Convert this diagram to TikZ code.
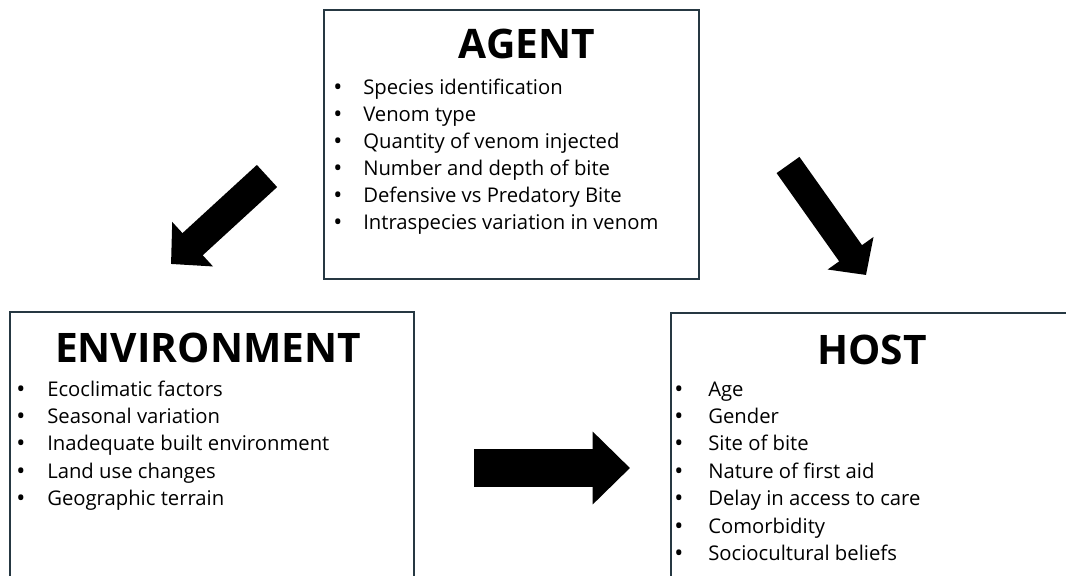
\documentclass[tikz,border=0pt]{standalone}
\usepackage{fontspec}
\setmainfont{Open Sans}
\usetikzlibrary{arrows.meta,positioning}

\definecolor{framecol}{RGB}{38,56,66}

\tikzset{
  frame/.style={draw=framecol, line width=1.5pt, inner sep=0pt, anchor=north west},
  title/.style={font=\fontsize{30.5}{30.5}\selectfont\bfseries, anchor=base, inner sep=0pt},
  item/.style={font=\fontsize{15.2}{15.2}\selectfont, anchor=base west, inner sep=0pt},
  dot/.style={font=\fontsize{18}{18}\selectfont, anchor=base, inner sep=0pt},
  blockarrow/.style n args={3}{line width=#1, -{Triangle[length=#2, width=#3]}}
}

\begin{document}
\begin{tikzpicture}[x=0.75pt,y=-0.75pt]
\useasboundingbox (0,0) rectangle (1066,575);
\clip (0,0) rectangle (1066,575);

% the three boxes
\node[frame, minimum width=281.25pt, minimum height=201.75pt] (agent) at (323,9) {};
\node[frame, minimum width=303pt, minimum height=225pt] (environment) at (9,311) {};
\node[frame, minimum width=302.25pt, minimum height=225pt] (host) at (670,312) {};

\node[title] (agent-title) at (527,58) {AGENT};
\node[title] (environment-title) at (208,362) {ENVIRONMENT};
\node[title] (host-title) at (872,364) {HOST};

% bullet lists
\foreach \t [count=\i] in {Species identification, Venom type,
  Quantity of venom injected, Number and depth of bite,
  Defensive vs Predatory Bite, Intraspecies variation in venom} {
	\node[dot] (agent-dot-\i) at (338,{95+27*(\i-1)}) {\textbullet};
	\node[item] (agent-\i) at (363,{94+27*(\i-1)}) {\t};
}
\foreach \t [count=\i] in {Ecoclimatic factors, Seasonal variation,
  Inadequate built environment, Land use changes, Geographic terrain} {
	\node[dot] (environment-dot-\i) at (21,{397+27.4*(\i-1)}) {\textbullet};
	\node[item] (environment-\i) at (47,{396+27.4*(\i-1)}) {\t};
}
\foreach \t [count=\i] in {Age, Gender, Site of bite, Nature of first aid,
  Delay in access to care, Comorbidity, Sociocultural beliefs} {
	\node[dot] (host-dot-\i) at (679,{397+27.4*(\i-1)}) {\textbullet};
	\node[item] (host-\i) at (708,{396+27.4*(\i-1)}) {\t};
}

% block arrows
\coordinate (agent-left) at (267,176);
\coordinate (environment-in) at (171,264);
\coordinate (agent-right) at (788,165);
\coordinate (host-in) at (866,275);
\coordinate (environment-out) at (474,468);
\coordinate (host-side) at (630,468);

\draw[blockarrow={22.5pt}{22pt}{44pt}] (agent-left) -- (environment-in);
\draw[blockarrow={21pt}{20pt}{41pt}] (agent-right) -- (host-in);
\draw[blockarrow={28.5pt}{28pt}{53pt}] (environment-out) -- (host-side);
\end{tikzpicture}
\end{document}
